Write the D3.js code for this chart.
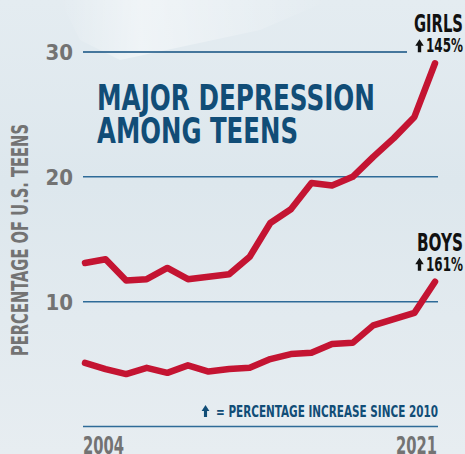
<!DOCTYPE html>
<html>
<head>
<meta charset="utf-8">
<script src="https://cdn.jsdelivr.net/npm/d3@7"></script>
<style>
  body { margin: 0; background: #e3ebf0; }
  svg { display: block; }
  .cond { font-family: "Liberation Sans Narrow", "DejaVu Sans Condensed", "Roboto", sans-serif; font-weight: bold; }
</style>
</head>
<body>
<svg id="chart"></svg>
<script>
const years = d3.range(2004, 2022);
const girls = [13.1, 13.4, 11.7, 11.8, 12.7, 11.8, 12.0, 12.2, 13.6, 16.3, 17.4, 19.5, 19.3, 20.0, 21.6, 23.1, 24.8, 29.1];
const boys = [5.1, 4.6, 4.2, 4.7, 4.3, 4.9, 4.4, 4.6, 4.7, 5.4, 5.8, 5.9, 6.6, 6.7, 8.1, 8.6, 9.1, 11.6];
const yTicks = [10, 20, 30];
const xTicks = [2004, 2021];
const seriesLabels = [
  { name: "GIRLS", change: "145%", at: 29.1 },
  { name: "BOYS", change: "161%", at: 11.6 }
];

const width = 465, height = 454;

const svg = d3.select("#chart")
  .attr("width", width)
  .attr("height", height);

// background with a faint light streak at the top
const defs = svg.append("defs");
const bg = defs.append("linearGradient")
  .attr("id", "bg")
  .attr("x1", 0).attr("y1", 0).attr("x2", 0).attr("y2", 1);
bg.append("stop").attr("offset", "0%").attr("stop-color", "#e4ecf1");
bg.append("stop").attr("offset", "40%").attr("stop-color", "#dde7ed");
bg.append("stop").attr("offset", "100%").attr("stop-color", "#e7edf1");
svg.append("rect").attr("width", width).attr("height", height).attr("fill", "url(#bg)");

const streak = defs.append("linearGradient")
  .attr("id", "streak")
  .attr("x1", 0).attr("y1", 0).attr("x2", 1).attr("y2", 0);
streak.append("stop").attr("offset", "0%").attr("stop-color", "#ffffff").attr("stop-opacity", 0.0);
streak.append("stop").attr("offset", "30%").attr("stop-color", "#ffffff").attr("stop-opacity", 0.45);
streak.append("stop").attr("offset", "100%").attr("stop-color", "#ffffff").attr("stop-opacity", 0.0);
svg.append("path")
  .attr("d", "M60,0 L330,0 L260,30 L120,60 L80,40 Z")
  .attr("fill", "url(#streak)");

const x = d3.scaleLinear().domain([2004, 2021]).range([85, 435]);
const y = d3.scaleLinear().domain([0, 30]).range([426.5, 52]);

// gridlines
svg.append("g")
  .selectAll("line")
  .data(yTicks)
  .join("line")
  .attr("x1", 83)
  .attr("x2", d => d === 30 ? 407 : 438)
  .attr("y1", d => y(d))
  .attr("y2", d => y(d))
  .attr("stroke", d => d === 30 ? "#114f80" : "#2e6b98")
  .attr("stroke-width", 1.5);

// baseline
svg.append("line")
  .attr("x1", 83).attr("x2", 438)
  .attr("y1", y(0)).attr("y2", y(0))
  .attr("stroke", "#2e6b98").attr("stroke-width", 1.5);

// y tick labels
svg.append("g")
  .selectAll("text")
  .data(yTicks)
  .join("text")
  .attr("class", "cond")
  .attr("x", 73)
  .attr("y", d => y(d) + 8)
  .attr("text-anchor", "end")
  .attr("font-size", 22)
  .attr("fill", "#737373")
  .text(d => d);

// x tick labels
svg.append("g")
  .selectAll("text")
  .data(xTicks)
  .join("text")
  .attr("class", "cond")
  .attr("x", d => d === 2004 ? x(d) - 2 : x(d) + 2)
  .attr("y", 454)
  .attr("text-anchor", d => d === 2004 ? "start" : "end")
  .attr("font-size", 25)
  .attr("fill", "#737373")
  .attr("textLength", 41)
  .attr("lengthAdjust", "spacingAndGlyphs")
  .text(d => d);

// y axis title
svg.append("text")
  .attr("class", "cond")
  .attr("transform", "translate(28,240) rotate(-90)")
  .attr("text-anchor", "middle")
  .attr("font-size", 23)
  .attr("fill", "#737373")
  .attr("textLength", 232)
  .attr("lengthAdjust", "spacingAndGlyphs")
  .text("PERCENTAGE OF U.S. TEENS");

// title
const title = svg.append("g").attr("class", "cond").attr("fill", "#114d77");
title.append("text")
  .attr("x", 97).attr("y", 110)
  .attr("font-size", 36)
  .attr("textLength", 278)
  .attr("lengthAdjust", "spacingAndGlyphs")
  .text("MAJOR DEPRESSION");
title.append("text")
  .attr("x", 97).attr("y", 143)
  .attr("font-size", 36)
  .attr("textLength", 201)
  .attr("lengthAdjust", "spacingAndGlyphs")
  .text("AMONG TEENS");

// lines
const line = d3.line()
  .x((d, i) => x(years[i]))
  .y(d => y(d));

svg.append("g")
  .selectAll("path")
  .data([girls, boys])
  .join("path")
  .attr("d", line)
  .attr("fill", "none")
  .attr("stroke", "#c41432")
  .attr("stroke-width", 6.5)
  .attr("stroke-linejoin", "round")
  .attr("stroke-linecap", "round");

// up arrow glyph
const arrow = (g, cx, top, h, color) => {
  const w = h * 0.65;
  const p = d3.path();
  p.moveTo(cx, top);
  p.lineTo(cx + w / 2, top + h * 0.5);
  p.lineTo(cx + w * 0.2, top + h * 0.5);
  p.lineTo(cx + w * 0.2, top + h);
  p.lineTo(cx - w * 0.2, top + h);
  p.lineTo(cx - w * 0.2, top + h * 0.5);
  p.lineTo(cx - w / 2, top + h * 0.5);
  p.closePath();
  g.append("path").attr("d", p.toString()).attr("fill", color);
};

// series labels
const lbl = svg.append("g").attr("class", "cond").attr("fill", "#111");
seriesLabels.forEach(s => {
  const top = y(s.at) - 49;
  lbl.append("text")
    .attr("x", 463).attr("y", top + 18)
    .attr("text-anchor", "end")
    .attr("font-size", 25)
    .attr("textLength", s.name === "GIRLS" ? 49 : 46)
    .attr("lengthAdjust", "spacingAndGlyphs")
    .text(s.name);
  lbl.append("text")
    .attr("x", 463).attr("y", top + 38)
    .attr("text-anchor", "end")
    .attr("font-size", 19)
    .attr("textLength", 37)
    .attr("lengthAdjust", "spacingAndGlyphs")
    .text(s.change);
  arrow(lbl, 419.5, top + 25, 13, "#111");
});

// legend note
const note = svg.append("g").attr("class", "cond").attr("fill", "#114d77");
arrow(note, 205.5, 405, 12, "#114d77");
note.append("text")
  .attr("x", 438).attr("y", 417)
  .attr("text-anchor", "end")
  .attr("font-size", 16)
  .attr("textLength", 222)
  .attr("lengthAdjust", "spacingAndGlyphs")
  .text("= PERCENTAGE INCREASE SINCE 2010");
</script>
</body>
</html>
